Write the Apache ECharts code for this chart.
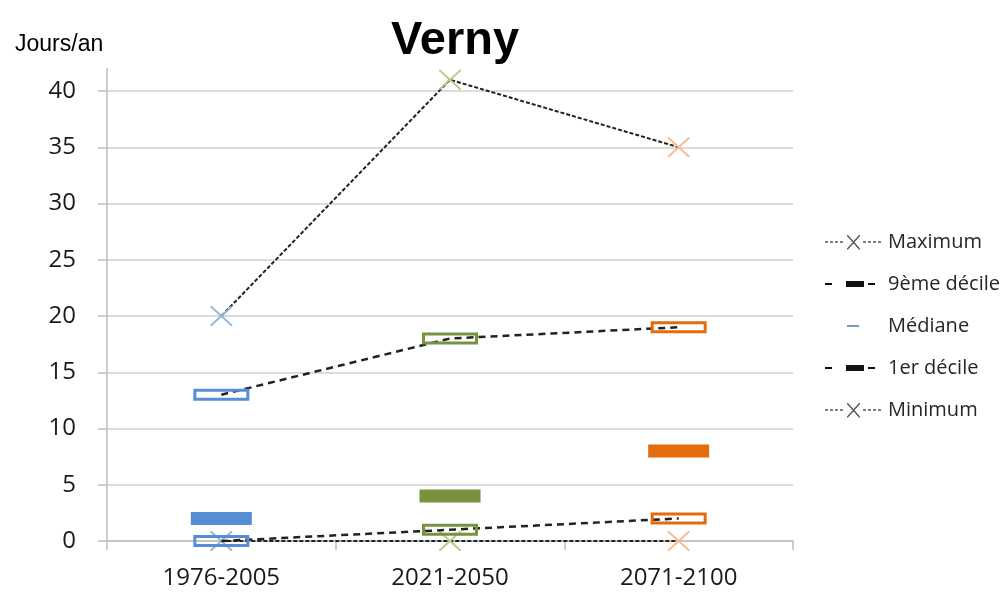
<!DOCTYPE html>
<html><head><meta charset="utf-8">
<script src="https://cdn.jsdelivr.net/npm/echarts@6/dist/echarts.min.js"></script>
<style>html,body{margin:0;padding:0;background:#fff}#c{width:1004px;height:594px}</style>
</head><body><div id="c"></div>
<script>
// ---- data ----
const categories = ['1976-2005', '2021-2050', '2071-2100'];
const maximum = [20, 41, 35];
const decile9 = [13, 18, 19];
const mediane = [2, 4, 8];
const decile1 = [0, 1, 2];
const minimum = [0, 0, 0];
const yTicks = [0, 5, 10, 15, 20, 25, 30, 35, 40];
const seriesNames = ['Maximum', '9ème décile', 'Médiane', '1er décile', 'Minimum'];

// ---- styles ----
const periodColors = ['#558ed5', '#77933c', '#e46c0a'];
const crossColors = ['#95b3d7', '#b3cc86', '#f9b98a'];
const crossPath = 'path://M0,0 L1.3,0 L20,18.7 L20,20 L18.7,20 L0,1.3 Z M20,0 L20,1.3 L1.3,20 L0,20 L0,18.7 L18.7,0 Z';
// hollow frame: outer clockwise, inner counter-clockwise
const framePath = 'path://M0,0 H56 V12 H0 Z M3,3 V9 H53 V3 Z';

function rects(list) {
  return list.map(r => `M${r[0]},${r[1]} H${r[0] + r[2]} V${r[1] + r[3]} H${r[0]} Z`).join(' ');
}
const boxFix = 'M0,0 M58,20 ';
function dottedSeg(x0, x1) {
  const out = [];
  for (let x = x0; x + 3 <= x1; x += 5) out.push([x, 9.3, 3, 1.5]);
  return out;
}
const crossIcon = 'path://' + boxFix + rects(dottedSeg(0, 21).concat(dottedSeg(38, 60))) +
  ' M22,3 L23,3 L35,16.5 L35,17.5 L34,17.5 L22,4 Z M35,3 L35,4 L23,17.5 L22,17.5 L22,16.5 L34,3 Z';
const decileIcon = 'path://' + boxFix + rects([[0, 9, 7, 2], [21, 7, 18, 6], [43, 9, 7, 2]]);
const medianIcon = 'path://' + boxFix + rects([[22, 9, 12, 2]]);

const axisGrey = '#bfbfbf';
const labelFont = 'Open Sans';

const chart = echarts.init(document.getElementById('c'));
chart.setOption({
  animation: false,
  backgroundColor: '#fff',
  title: [
    { text: 'Verny', left: 450, textAlign: 'center', top: 13,
      textStyle: { fontFamily: 'Liberation Sans', fontWeight: 'bold', fontSize: 47, color: '#000' } },
    { text: 'Jours/an', left: 10, top: 28,
      textStyle: { fontFamily: 'Liberation Sans', fontWeight: 'normal', fontSize: 23, color: '#000' } }
  ],
  grid: { left: 107, right: 211, top: 68.5, bottom: 53, containLabel: false },
  legend: {
    orient: 'vertical', left: 820, top: 227, itemWidth: 58, itemHeight: 20, itemGap: 22,
    selectedMode: false,
    textStyle: { fontFamily: labelFont, fontSize: 20, color: '#262626' },
    data: [
      { name: seriesNames[0], icon: crossIcon, itemStyle: { color: '#555', borderWidth: 0 } },
      { name: seriesNames[1], icon: decileIcon, itemStyle: { color: '#111', borderWidth: 0 } },
      { name: seriesNames[2], icon: medianIcon, itemStyle: { color: '#4f81bd', borderWidth: 0 } },
      { name: seriesNames[3], icon: decileIcon, itemStyle: { color: '#111', borderWidth: 0 } },
      { name: seriesNames[4], icon: crossIcon, itemStyle: { color: '#555', borderWidth: 0 } }
    ]
  },
  xAxis: {
    type: 'category', data: categories, boundaryGap: true,
    axisLine: { show: true, lineStyle: { color: axisGrey, width: 1.5 } },
    axisTick: { show: true, length: 9, inside: false, lineStyle: { color: axisGrey, width: 1.5 } },
    axisLabel: { fontFamily: labelFont, fontSize: 24, color: '#1a1a1a', margin: 25 },
    splitLine: { show: false }
  },
  yAxis: {
    type: 'value', min: 0, max: 42, interval: 5,
    axisLine: { show: true, lineStyle: { color: axisGrey, width: 1.5 } },
    axisTick: { show: true, length: 9, inside: false, customValues: yTicks, lineStyle: { color: axisGrey, width: 1.5 } },
    axisLabel: { fontFamily: labelFont, fontSize: 24, color: '#1a1a1a', margin: 31, customValues: yTicks },
    splitLine: { show: true, lineStyle: { color: '#d0d0d0', width: 1.5 } }
  },
  series: [
    {
      name: seriesNames[2], type: 'scatter', z: 2,
      symbol: 'rect', symbolSize: [61, 13],
      data: mediane.map((v, i) => ({ value: v, itemStyle: { color: periodColors[i], opacity: 1 } })),
      clip: false
    },
    {
      name: seriesNames[4], type: 'line', z: 1,
      lineStyle: { color: '#222', type: [4, 2], width: 2 },
      symbol: crossPath, symbolSize: [22, 20], symbolKeepAspect: false, showAllSymbol: true,
      data: minimum.map((v, i) => ({ value: v, itemStyle: { color: crossColors[i], borderWidth: 0 } })),
      clip: false
    },
    {
      name: seriesNames[0], type: 'line', z: 4,
      lineStyle: { color: '#222', type: [4, 2], width: 2 },
      symbol: crossPath, symbolSize: [22, 20], symbolKeepAspect: false, showAllSymbol: true,
      data: maximum.map((v, i) => ({ value: v, itemStyle: { color: crossColors[i], borderWidth: 0 } })),
      clip: false
    },
    {
      name: seriesNames[1], type: 'line', z: 3,
      lineStyle: { color: '#222', type: [7, 5], width: 2.5 },
      symbol: framePath, symbolSize: [56, 12], symbolKeepAspect: false, showAllSymbol: true,
      data: decile9.map((v, i) => ({ value: v, itemStyle: { color: periodColors[i], borderWidth: 0 } })),
      clip: false
    },
    {
      name: seriesNames[3], type: 'line', z: 3,
      lineStyle: { color: '#222', type: [7, 5], width: 2.5 },
      symbol: framePath, symbolSize: [56, 12], symbolKeepAspect: false, showAllSymbol: true,
      data: decile1.map((v, i) => ({ value: v, itemStyle: { color: periodColors[i], borderWidth: 0 } })),
      clip: false
    }
  ]
});
</script>
</body></html>
